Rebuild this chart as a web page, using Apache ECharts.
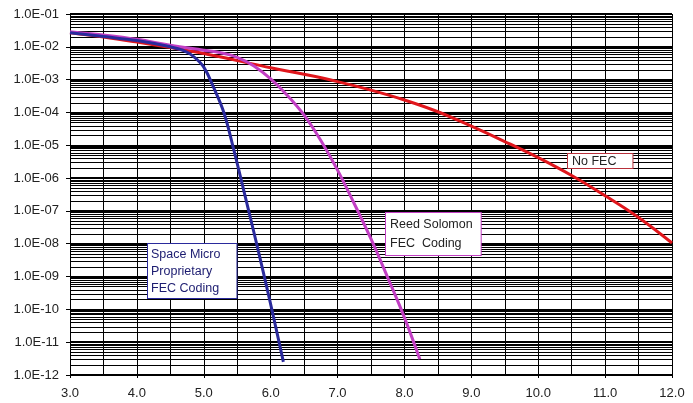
<!DOCTYPE html>
<html>
<head>
<meta charset="utf-8">
<script src="https://cdn.jsdelivr.net/npm/echarts@6/dist/echarts.min.js"></script>
<style>
  html, body { margin: 0; padding: 0; background: #fff; }
  #chart { width: 693px; height: 403px; }
</style>
</head>
<body>
<div id="chart"></div>
<script>
// Eb/No (dB) vs bit error rate
var noFecX = [3.0, 3.5, 4.0, 4.5, 5.0, 5.5, 6.0, 6.5, 7.0, 7.5, 8.0, 8.5, 9.0, 9.5, 10.0, 10.5, 11.0, 11.5, 12.0];
var noFecY = [2.7e-2, 2.0e-2, 1.4e-2, 9.5e-3, 6.3e-3, 3.8e-3, 2.3e-3, 1.45e-3, 8.7e-4, 4.8e-4, 2.4e-4, 1.05e-4,
              3.8e-5, 1.3e-5, 4.2e-6, 1.2e-6, 2.9e-7, 6.3e-8, 1.05e-8];

var rsX = [3.0, 3.5, 4.0, 4.5, 5.0, 5.25, 5.5, 5.75, 6.0, 6.25, 6.5, 6.75, 7.0, 7.25, 7.5, 7.75, 8.0, 8.23];
var rsY = [2.9e-2, 2.3e-2, 1.7e-2, 1.12e-2, 7.9e-3, 6.6e-3, 4.8e-3, 2.6e-3, 1.05e-3, 3.3e-4, 8.3e-5, 1.4e-5,
           1.75e-6, 1.65e-7, 1.4e-8, 9.3e-10, 5.6e-11, 3.0e-12];

var smX = [3.0, 3.5, 4.0, 4.5, 4.7, 4.85, 5.0, 5.15, 5.3, 5.45, 5.6, 5.75, 5.9, 6.05, 6.19];
var smY = [2.7e-2, 2.05e-2, 1.55e-2, 1.0e-2, 7.6e-3, 5.0e-3, 2.4e-3, 5.6e-4, 1.0e-4, 7.1e-6, 4.0e-7,
           2.2e-8, 1.1e-9, 5.0e-11, 2.5e-12];

var decades = [-12, -11, -10, -9, -8, -7, -6, -5, -4, -3, -2];
var minorSteps = [2, 3, 4, 5, 6, 7, 8, 9];

function pairs(xs, ys) {
    var out = [];
    for (var i = 0; i < xs.length; i++) out.push([xs[i], ys[i]]);
    return out;
}

// minor log gridlines (2..9 in every decade)
var minorLines = [];
decades.forEach(function (e) {
    minorSteps.forEach(function (k) {
        minorLines.push([3, k * Math.pow(10, e)]);
    });
});

function expLabel(v) {
    var e = Math.round(Math.log10(v));
    var s = Math.abs(e) < 10 ? '0' + Math.abs(e) : '' + Math.abs(e);
    return '1.0E' + (e < 0 ? '-' : '+') + s;
}

var font = '"Liberation Sans", Arial, sans-serif';
var chart = echarts.init(document.getElementById('chart'));

chart.setOption({
    animation: false,
    grid: { left: 70, right: 21, top: 14, bottom: 28 },
    xAxis: {
        type: 'value',
        min: 3, max: 12, interval: 1,
        axisLine: { lineStyle: { color: '#000', width: 1 } },
        axisTick: { show: true, length: 3, lineStyle: { color: '#000' } },
        axisLabel: {
            margin: 12, color: '#222', fontSize: 13, fontFamily: font,
            formatter: function (v) { return v.toFixed(1); }
        },
        splitLine: { show: true, lineStyle: { color: '#000', width: 1 } },
        minorTick: { show: false, splitNumber: 2 },
        minorSplitLine: { show: true, lineStyle: { color: '#000', width: 1 } }
    },
    yAxis: {
        type: 'log',
        logBase: 10,
        min: 1e-12, max: 1e-1,
        interval: 1,
        axisLine: { show: true, lineStyle: { color: '#000', width: 1 } },
        axisTick: { show: true, length: 4, lineStyle: { color: '#000' } },
        axisLabel: {
            margin: 11, color: '#222', fontSize: 13, fontFamily: font,
            formatter: expLabel
        },
        splitLine: { show: true, lineStyle: { color: '#000', width: 2 } }
    },
    series: [
        {
            name: 'grid',
            type: 'custom',
            silent: true,
            z: 1,
            data: minorLines,
            renderItem: function (params, api) {
                var v = api.value(1);
                var a = api.coord([3, v]);
                var b = api.coord([12, v]);
                return {
                    type: 'line',
                    shape: { x1: a[0], y1: Math.round(a[1]) + 0.5, x2: b[0], y2: Math.round(b[1]) + 0.5 },
                    style: { stroke: '#000', lineWidth: 1 }
                };
            }
        },
        {
            name: 'No FEC',
            type: 'line',
            data: pairs(noFecX, noFecY),
            smooth: 0.4,
            showSymbol: false,
            z: 3,
            lineStyle: { color: '#e0161c', width: 3 }
        },
        {
            name: 'Reed Solomon FEC Coding',
            type: 'line',
            data: pairs(rsX, rsY),
            smooth: 0.4,
            showSymbol: false,
            z: 4,
            lineStyle: { color: '#c23fc4', width: 3 }
        },
        {
            name: 'Space Micro Proprietary FEC Coding',
            type: 'line',
            data: pairs(smX, smY),
            smooth: 0.4,
            showSymbol: false,
            z: 5,
            lineStyle: { color: '#2a2a9c', width: 3 }
        }
    ],
    graphic: [
        {
            type: 'text', left: 147, top: 243, z: 100,
            style: {
                text: 'Space Micro\nProprietary\nFEC Coding',
                font: '12.5px ' + font, fill: '#1c1c70', lineHeight: 17,
                backgroundColor: '#fff', borderColor: '#2a2a9c', borderWidth: 1,
                padding: [2, 16, 1, 3]
            }
        },
        {
            type: 'text', left: 385, top: 212, z: 100,
            style: {
                text: 'Reed Solomon\nFEC  Coding',
                font: '12.5px ' + font, fill: '#222', lineHeight: 19,
                backgroundColor: '#fff', borderColor: '#c23fc4', borderWidth: 1,
                padding: [2, 8, 2, 4]
            }
        },
        {
            type: 'text', left: 567, top: 153, z: 100,
            style: {
                text: 'No FEC',
                font: '12.5px ' + font, fill: '#222', lineHeight: 13,
                backgroundColor: '#fff', borderColor: '#b8303a', borderWidth: 1,
                padding: [1, 16, 0, 4]
            }
        }
    ]
});
</script>
</body>
</html>
